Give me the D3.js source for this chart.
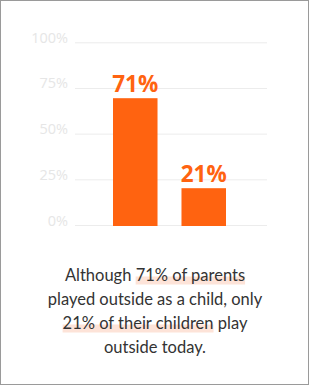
<!DOCTYPE html>
<html>
<head>
<meta charset="utf-8">
<script src="https://cdn.jsdelivr.net/npm/d3@7"></script>
<style>
  html, body { margin: 0; padding: 0; background: #fff; }
  svg { display: block; }
</style>
</head>
<body>
<div id="chart"></div>
<script>
const groups = ["Parents", "Children"];
const values = [71, 21];
const ticks = [0, 25, 50, 75, 100];
const captionLines = [
  [["Although ", false], ["71% of parents", true]],
  [["played outside as a child, only", false]],
  [["21% of their children", true], [" play", false]],
  [["outside today.", false]]
];

const W = 310, H = 386;
const orange = "#ff6310";

const svg = d3.select("#chart").append("svg")
  .attr("width", W)
  .attr("height", H);

svg.append("rect")
  .attr("x", 0.5).attr("y", 0.5)
  .attr("width", 308).attr("height", 384)
  .attr("fill", "#fff")
  .attr("stroke", "#9a9a9a");

const y = d3.scaleLinear().domain([0, 100]).range([225, 42.3]);
// bars sit a touch lower than the grid in the original
const yBar = d3.scaleLinear().domain([0, 100]).range([226, 46]);
const x = d3.scaleBand().domain(groups).range([113, 226]).paddingInner(0.35).paddingOuter(0);

const grid = svg.append("g");
grid.selectAll("line")
  .data(ticks)
  .enter().append("line")
  .attr("x1", 75).attr("x2", 267)
  .attr("y1", d => y(d) + 0.5).attr("y2", d => y(d) + 0.5)
  .attr("stroke", "#ececec");

grid.selectAll("text")
  .data(ticks)
  .enter().append("text")
  .attr("x", 68)
  .attr("y", d => y(d) + 0.5)
  .attr("text-anchor", "end")
  .style("font-family", "'Open Sans', sans-serif")
  .style("font-size", "14.5px")
  .style("fill", "#e6e6e6")
  .text(d => d + "%");

svg.selectAll(".bar")
  .data(values)
  .enter().append("rect")
  .attr("class", "bar")
  .attr("x", (d, i) => x(groups[i]))
  .attr("width", x.bandwidth())
  .attr("y", d => yBar(d))
  .attr("height", d => yBar(0) - yBar(d))
  .attr("fill", orange);

svg.selectAll(".val")
  .data(values)
  .enter().append("text")
  .attr("class", "val")
  .attr("x", (d, i) => x(groups[i]) + x.bandwidth() / 2)
  .attr("y", d => yBar(d) - 6)
  .attr("text-anchor", "middle")
  .style("font-family", "'Open Sans', sans-serif")
  .style("font-weight", "bold")
  .style("font-size", "22.5px")
  .style("fill", orange)
  .text(d => d + "%");

// caption with highlighted phrases
const cap = svg.append("g");
captionLines.forEach((parts, li) => {
  const base = 281 + li * 24;
  const t = cap.append("text")
    .attr("x", 155)
    .attr("y", base)
    .attr("text-anchor", "middle")
    .style("font-family", "Lato, sans-serif")
    .style("font-size", "16.5px")
    .style("fill", "#333");
  parts.forEach(p => {
    t.append("tspan").text(p[0]).attr("data-hl", p[1] ? 1 : 0);
  });
  t.selectAll("tspan").each(function () {
    if (this.getAttribute("data-hl") === "1") {
      const b = this.getBBox();
      cap.insert("rect", "text")
        .attr("x", b.x)
        .attr("y", base - 4.5)
        .attr("width", b.width)
        .attr("height", 8)
        .attr("fill", "#fde3d8");
    }
  });
});
</script>
</body>
</html>
